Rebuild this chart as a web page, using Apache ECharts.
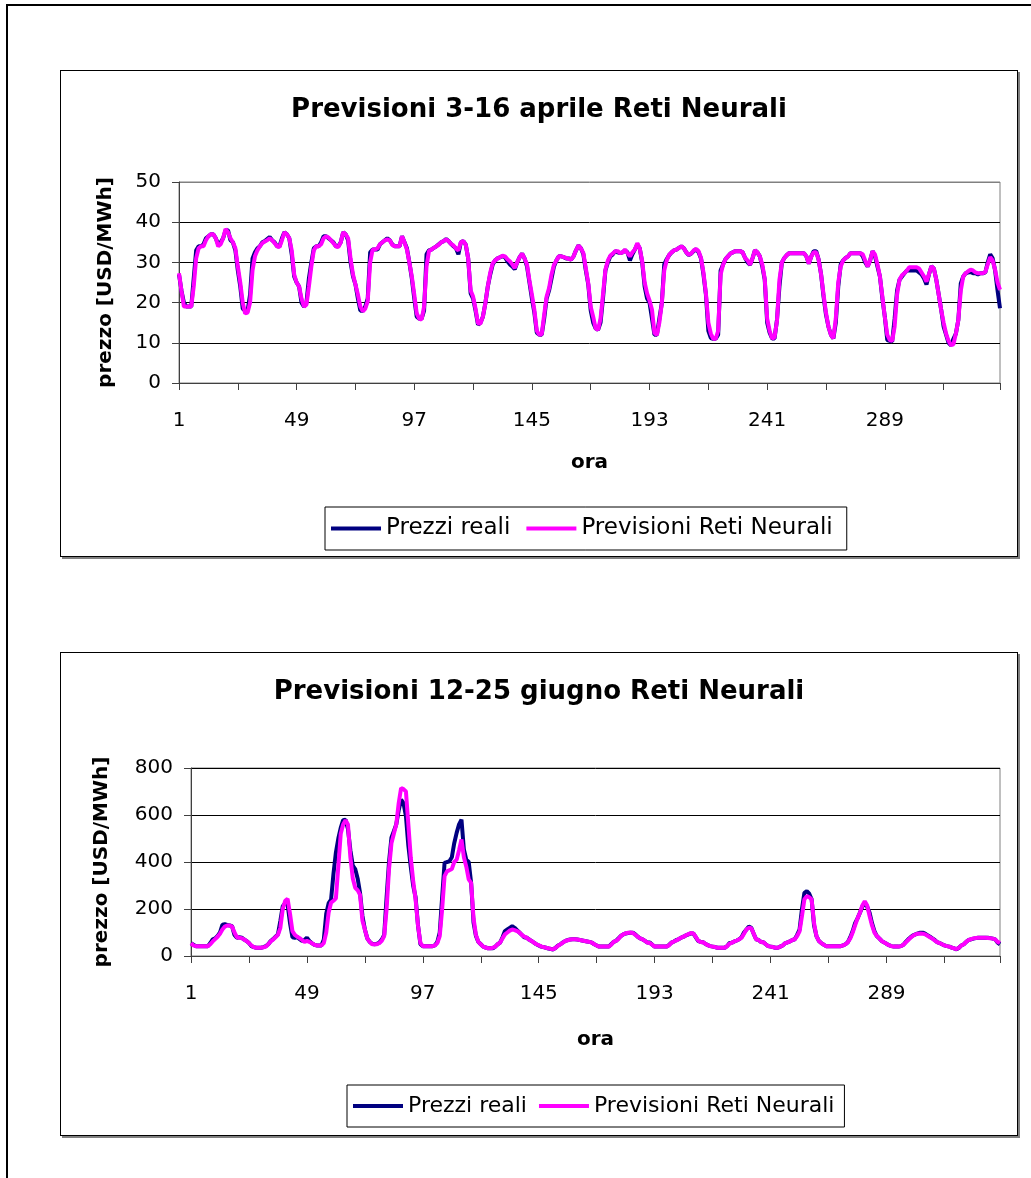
<!DOCTYPE html>
<html>
<head>
<meta charset="utf-8">
<script src="https://cdn.jsdelivr.net/npm/echarts@6/dist/echarts.min.js"></script>
<style>
  body { margin: 0; background: #fff; }
  #frame { position: absolute; left: 6px; top: 4px; width: 1100px; height: 1250px; border-left: 2px solid #000; border-top: 2px solid #000; }
  .box { position: absolute; left: 60px; width: 958px; box-sizing: border-box; border: 1px solid #000; box-shadow: 2px 2px 0 #808080; background: #fff; }
  #chart1 { top: 70px; height: 487px; }
  #chart2 { top: 652px; height: 484px; }
</style>
</head>
<body>
<div id="frame"></div>
<div id="chart1" class="box"></div>
<div id="chart2" class="box"></div>
<script>
// ore 1..336 (14 giorni)
const ore = Array.from({ length: 336 }, (_, i) => String(i + 1))
const tickOre = ['1', '49', '97', '145', '193', '241', '289']

// 3-16 aprile, un giorno per riga
const realiAprile = [
  27, 23, 20, 19, 19, 19, 26, 33, 34, 34, 34.5, 36, 36.5, 37, 37, 36, 34.5, 35, 36, 38, 38, 35.5, 35, 33,
  28, 24, 18.5, 18, 18, 22, 31, 32.5, 33.5, 34, 35, 35.3, 35.8, 36.3, 35.5, 35, 34, 34, 36, 37.5, 37, 36, 32, 26.5,
  25, 24, 20, 19, 20, 26, 30, 33.5, 34, 34, 35, 36.5, 36.5, 36, 35.5, 35, 34, 34, 35, 37.5, 37, 35.5, 30, 26.5,
  24.5, 21, 18, 18, 19, 21, 32.5, 33.2, 33.2, 33.2, 34.5, 35, 35.5, 36, 35.5, 34.5, 34, 34, 34, 36.5, 35, 33.5, 30, 26,
  21, 16.5, 16, 16, 18, 32, 33, 33.2, 33.6, 34, 34.5, 35, 35.3, 35.8, 35.3, 34.6, 34, 33.5, 32, 35, 35.3, 34.4, 31, 22.3,
  21, 18, 14.5, 15, 16.5, 19.8, 24, 27, 29.5, 30.5, 31, 31.3, 31.5, 31.3, 30.3, 29.5, 29, 28.3, 30, 31.3, 32.2, 31, 29, 25,
  21, 17.5, 12.5, 12, 12, 16, 21, 23, 26, 29, 30.5, 31.5, 31.5, 31.3, 31, 31, 30.7, 31.5, 33, 34.2, 33.5, 32, 28, 24.5,
  18, 15, 13.6, 13.2, 15, 21, 28, 30, 31.5, 32, 32.8, 32.5, 32.3, 32.5, 33, 32.5, 30.5, 32, 33.2, 34.5, 33.5, 30, 24, 21,
  20, 16, 12, 12, 16, 19.8, 29.5, 30.8, 31.8, 32.5, 33, 33.2, 33.6, 34, 33.5, 32.5, 31.8, 32.2, 32.8, 33.3, 32.5, 31, 27, 22,
  13, 11.2, 11, 11, 12, 28, 29.5, 30.8, 31.5, 32.2, 32.5, 32.8, 32.8, 32.8, 32.5, 31.1, 30, 29.4, 31, 33, 32.5, 31.5, 29, 25.7,
  15, 12.5, 11.1, 11.1, 15.7, 24, 30, 31.1, 31.8, 32.3, 32.3, 32.3, 32.3, 32.3, 32.3, 32.3, 31.5, 29.7, 31.5, 32.8, 32.8, 30.7, 27, 21.5,
  17, 14, 12, 11.1, 15, 24, 29.5, 30.5, 31.1, 31.5, 32.3, 32.3, 32.3, 32.3, 32.3, 31.5, 30, 29, 30.5, 32.8, 31.5, 29, 26.5, 21,
  16.5, 10.7, 10.5, 10.3, 16, 23, 25.7, 26.5, 27.3, 28, 28, 28, 28, 28, 27.5, 27, 26, 24.5, 27, 29, 28.5, 25.7, 22, 18.2,
  14, 12, 10, 9.4, 11, 12.3, 15.7, 24.8, 26.5, 27.3, 27.5, 27.6, 27.3, 27.3, 27, 27.3, 27.3, 27.5, 30, 32, 31, 28, 23, 18.6
]
const previsioniAprile = [
  27.3, 23, 19, 19, 19, 19, 24, 31, 33.5, 34, 34, 35.5, 36.5, 37, 37, 36, 34, 34.5, 36, 38.3, 37.5, 36, 35, 33.5,
  29, 25, 20, 17.3, 17.5, 20, 28, 31.5, 33, 34, 34.8, 35.2, 35.5, 36, 35.5, 34.8, 34, 33.8, 35.5, 37.5, 37, 36, 33, 27,
  25, 24, 21, 19, 19.5, 24, 29, 33, 34, 34, 34.5, 36, 36.5, 36.2, 35.5, 34.8, 34, 33.8, 35, 37.5, 37, 36, 31, 27,
  24.5, 22, 19, 17.8, 18.5, 20.3, 30, 33.2, 33.2, 33.5, 34.5, 35, 35.5, 35.7, 35.5, 34.4, 34, 34, 34, 36.5, 35, 33.2, 30, 26.5,
  22, 17.3, 16, 15.8, 19, 29, 32.8, 33.2, 33.6, 34, 34.4, 35, 35.3, 35.7, 35.3, 34.6, 34.2, 33.5, 33, 35, 35.3, 34.4, 31, 23,
  21.5, 18.5, 14.8, 14.8, 16.5, 19.8, 24, 27.5, 29.8, 30.5, 31, 31.3, 31.7, 31.5, 30.8, 30.3, 29.5, 28.6, 30, 31.3, 32.2, 31, 29.5, 25.5,
  22, 18.2, 13, 12, 12.1, 17, 21.5, 23.6, 27, 29.4, 30.5, 31.5, 31.5, 31.3, 31.1, 30.9, 30.7, 31.5, 33, 34.2, 33.5, 32.3, 28.5, 24.8,
  19, 16.5, 13.6, 13.2, 16, 22, 28.2, 30.5, 31.7, 32.2, 32.8, 32.8, 32.3, 32.5, 33.2, 32.3, 31.5, 32.5, 33.2, 34.8, 33.5, 30.3, 25, 22.3,
  20.5, 18.2, 12.5, 11.9, 15, 19.8, 28, 30.5, 31.9, 32.5, 33, 33.2, 33.6, 34, 33.5, 32.5, 31.9, 32.2, 33, 33.3, 32.8, 31.1, 27.5, 22.3,
  15, 12.3, 11, 11, 13, 27, 29.4, 30.8, 31.5, 32.2, 32.5, 32.8, 32.8, 32.8, 32.5, 31.1, 30.5, 29.4, 31, 33, 32.5, 31.5, 29.5, 26,
  16, 13, 11.1, 11.3, 15.5, 25.7, 30, 31.1, 31.8, 32.3, 32.3, 32.3, 32.3, 32.3, 32.3, 32.3, 31.5, 29.7, 31.5, 32.5, 32.5, 30.7, 27, 22,
  17.5, 14, 12, 11.1, 16.1, 25, 29, 30.5, 31.1, 31.5, 32.3, 32.3, 32.3, 32.3, 32.3, 32, 30.5, 29, 30.5, 32.8, 32, 29.5, 26.5, 21.5,
  16.5, 12, 10.7, 10.5, 14, 22, 25.7, 26.8, 27.3, 28, 28.8, 28.8, 28.8, 28.8, 28.5, 27.5, 26.5, 25.2, 27, 29, 28.5, 25.7, 22, 18.2,
  15, 12.3, 10.5, 9.4, 9.6, 12.3, 15.7, 23, 26.5, 27.3, 27.8, 28.2, 28, 27.5, 27.3, 27.3, 27.3, 27.6, 29.5, 31.3, 30.5, 28.2, 25, 23.2
]

// 12-25 giugno
const realiGiugno = [
  54, 48, 42, 42, 42, 42, 42, 42, 55, 71, 75, 85, 100, 133, 135, 132, 130, 127, 90, 78, 80, 78, 70, 64,
  55, 42, 38, 35, 35, 35, 38, 42, 50, 64, 72, 82, 92, 150, 212, 225, 220, 140, 80, 78, 80, 72, 64, 68,
  78, 64, 55, 48, 45, 45, 45, 70, 180, 225, 240, 350, 440, 500, 545, 578, 580, 540, 450, 385, 370, 330, 269, 170,
  113, 75, 60, 52, 50, 52, 57, 70, 90, 250, 400, 503, 531, 560, 620, 665, 650, 595, 470, 380, 300, 250, 130, 50,
  42, 42, 42, 42, 42, 45, 60, 100, 250, 396, 400, 403, 420, 480, 524, 560, 580, 453, 410, 400, 311, 142, 85, 60,
  50, 40, 36, 33, 33, 33, 40, 50, 57, 80, 106, 113, 120, 127, 120, 110, 100, 90, 80, 78, 70, 64, 57, 50,
  45, 40, 38, 35, 32, 30, 28, 35, 45, 50, 58, 64, 68, 70, 71, 71, 70, 68, 66, 64, 62, 60, 57, 50,
  45, 40, 40, 40, 40, 40, 50, 60, 64, 75, 85, 92, 96, 98, 99, 99, 92, 82, 75, 71, 64, 57, 57, 48,
  40, 40, 40, 40, 40, 40, 48, 57, 62, 68, 72, 78, 82, 88, 92, 96, 96, 80, 64, 60, 59, 52, 46, 42,
  40, 38, 35, 35, 35, 35, 42, 55, 57, 62, 66, 71, 80, 100, 113, 125, 120, 95, 71, 68, 60, 59, 50, 42,
  40, 38, 35, 35, 40, 45, 54, 58, 62, 68, 71, 90, 113, 200, 269, 276, 265, 241, 130, 85, 64, 55, 48, 42,
  42, 42, 42, 42, 42, 42, 45, 50, 59, 80, 106, 140, 160, 184, 210, 226, 210, 184, 140, 106, 85, 75, 64, 58,
  52, 46, 42, 40, 40, 40, 42, 48, 60, 71, 80, 88, 92, 96, 99, 99, 95, 88, 82, 75, 68, 59, 55, 50,
  45, 42, 40, 36, 32, 28, 35, 45, 50, 60, 68, 71, 74, 76, 78, 78, 78, 78, 78, 76, 74, 71, 57, 50
]
const previsioniGiugno = [
  54, 45, 42, 42, 42, 42, 42, 42, 50, 62, 72, 82, 95, 113, 125, 130, 130, 125, 100, 80, 78, 76, 70, 64,
  55, 45, 38, 35, 35, 35, 37, 40, 50, 62, 70, 80, 90, 120, 200, 235, 243, 180, 106, 90, 82, 76, 68, 60,
  64, 60, 55, 48, 45, 45, 45, 55, 100, 185, 227, 235, 245, 380, 520, 560, 578, 560, 420, 330, 290, 280, 260, 150,
  113, 75, 60, 50, 50, 50, 55, 65, 85, 200, 370, 480, 520, 560, 650, 715, 710, 700, 560, 420, 320, 240, 130, 55,
  42, 42, 42, 42, 42, 45, 55, 85, 200, 340, 360, 365, 370, 400, 410, 450, 496, 420, 380, 326, 311, 160, 90, 60,
  50, 40, 36, 33, 33, 35, 40, 50, 57, 75, 92, 100, 108, 113, 110, 106, 100, 90, 82, 78, 70, 64, 57, 50,
  46, 41, 38, 35, 33, 30, 29, 35, 44, 50, 57, 64, 67, 70, 71, 71, 70, 68, 66, 64, 62, 60, 57, 50,
  45, 40, 40, 40, 40, 40, 48, 60, 64, 72, 85, 92, 97, 99, 100, 98, 90, 82, 75, 71, 64, 57, 55, 48,
  40, 40, 40, 40, 40, 40, 46, 57, 62, 66, 72, 78, 82, 88, 93, 98, 96, 82, 66, 60, 59, 52, 46, 42,
  40, 38, 35, 35, 35, 35, 42, 52, 57, 62, 66, 71, 78, 95, 113, 120, 118, 95, 71, 68, 60, 59, 50, 42,
  40, 38, 35, 35, 40, 45, 54, 58, 62, 68, 71, 85, 105, 170, 241, 255, 250, 241, 140, 85, 64, 55, 48, 42,
  42, 42, 42, 42, 42, 42, 45, 50, 59, 75, 100, 130, 160, 184, 215, 233, 215, 170, 130, 100, 85, 75, 64, 58,
  52, 46, 42, 40, 40, 40, 42, 48, 58, 68, 78, 86, 92, 95, 96, 95, 92, 86, 80, 74, 66, 59, 55, 50,
  45, 42, 40, 36, 32, 30, 35, 45, 50, 60, 68, 72, 75, 77, 78, 78, 78, 78, 77, 76, 74, 71, 60, 55
]

const FONT = 'DejaVu Sans'

function opzioni (titolo, reali, previsioni, yMax, yStep, grid, legenda, nameGapX, nameGapY) {
  return {
    animation: false,
    backgroundColor: '#fff',
    title: {
      text: titolo,
      left: 'center',
      top: 26,
      padding: 0,
      textStyle: { fontFamily: FONT, fontSize: 26, fontWeight: 'bold', color: '#000' }
    },
    legend: {
      left: legenda.left,
      top: legenda.top,
      data: ['Prezzi reali', 'Previsioni Reti Neurali'],
      icon: 'rect',
      itemWidth: 50,
      itemHeight: 4,
      itemGap: legenda.gap,
      padding: [10, legenda.padRight, 10, 6],
      borderColor: '#000',
      borderWidth: 1,
      textStyle: { fontFamily: FONT, fontSize: legenda.size, color: '#000' }
    },
    grid: Object.assign({ show: true, borderColor: '#808080', borderWidth: 1, backgroundColor: '#fff' }, grid),
    xAxis: {
      type: 'category',
      data: ore,
      boundaryGap: false,
      name: 'ora',
      nameLocation: 'middle',
      nameGap: nameGapX,
      nameTextStyle: { fontFamily: FONT, fontSize: 20, fontWeight: 'bold', color: '#000' },
      axisLine: { lineStyle: { color: '#404040', width: 1 } },
      axisTick: {
        length: 7,
        lineStyle: { color: '#404040' },
        interval: (idx) => idx % 24 === 0 || idx === 335
      },
      axisLabel: {
        margin: 28,
        fontFamily: FONT,
        fontSize: 20,
        color: '#000',
        interval: (idx, val) => tickOre.indexOf(val) !== -1
      },
      splitLine: { show: false }
    },
    yAxis: {
      type: 'value',
      min: 0,
      max: yMax,
      interval: yStep,
      name: 'prezzo [USD/MWh]',
      nameLocation: 'middle',
      nameRotate: 90,
      nameGap: nameGapY,
      nameTextStyle: { fontFamily: FONT, fontSize: 20, fontWeight: 'bold', color: '#000' },
      axisLine: { show: true, lineStyle: { color: '#404040', width: 1 } },
      axisTick: { show: true, length: 7, lineStyle: { color: '#404040' } },
      axisLabel: { margin: 18, fontFamily: FONT, fontSize: 20, color: '#000' },
      splitLine: { lineStyle: { color: ['#000', '#000', '#000', '#000', '#000', '#808080'], width: 1 } }
    },
    series: [
      {
        name: 'Prezzi reali',
        type: 'line',
        data: reali,
        showSymbol: false,
        color: '#000080',
        lineStyle: { width: 4, color: '#000080' }
      },
      {
        name: 'Previsioni Reti Neurali',
        type: 'line',
        data: previsioni,
        showSymbol: false,
        color: '#FF00FF',
        lineStyle: { width: 4, color: '#FF00FF' }
      }
    ]
  }
}

const chart1 = echarts.init(document.getElementById('chart1'))
chart1.setOption(opzioni('Previsioni 3-16 aprile Reti Neurali', realiAprile, previsioniAprile, 50, 10,
  { left: 118, top: 111, width: 821, height: 201 },
  { left: 264, top: 436, gap: 16, padRight: 14, size: 23 }, 70, 63))

const chart2 = echarts.init(document.getElementById('chart2'))
chart2.setOption(opzioni('Previsioni 12-25 giugno Reti Neurali', realiGiugno, previsioniGiugno, 800, 200,
  { left: 130, top: 115, width: 809, height: 188 },
  { left: 286, top: 432, gap: 12, padRight: 10, size: 22 }, 74, 79))
</script>
</body>
</html>
